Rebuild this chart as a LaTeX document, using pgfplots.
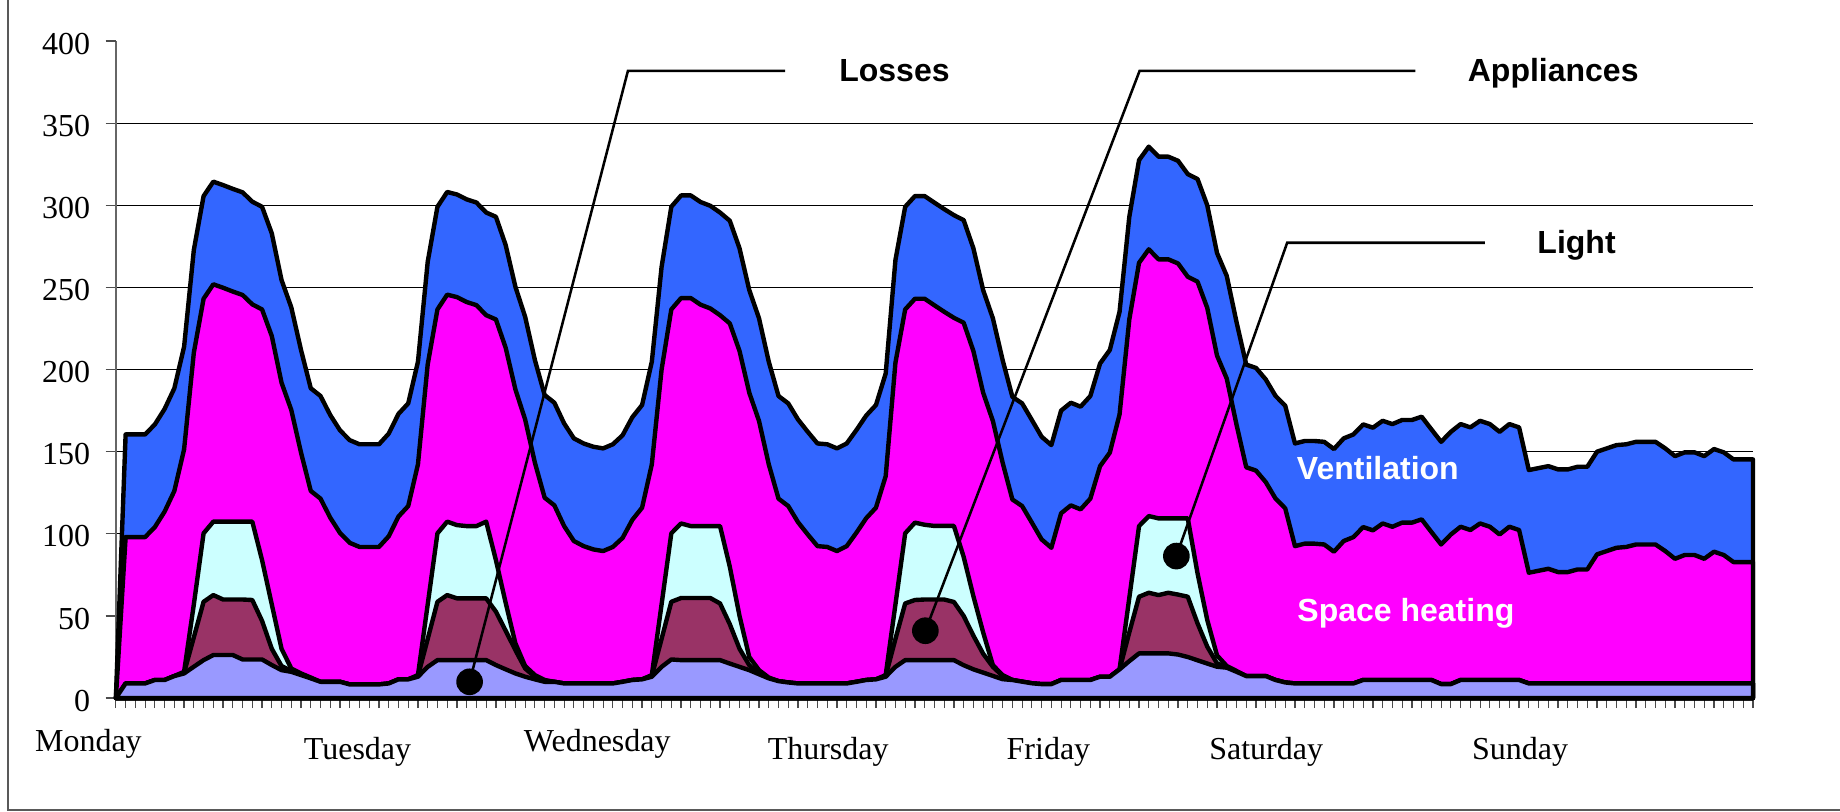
\documentclass[border=0pt]{standalone}
\usepackage{fontspec}
\setmainfont{Liberation Serif}
\newfontfamily\arialfont{Liberation Sans}
\usepackage{pgfplots}
\usepackage{pgfplotstable}
\pgfplotsset{compat=1.18}
\definecolor{vent}{HTML}{3366FF}
\definecolor{heat}{HTML}{FF00FF}
\definecolor{lightc}{HTML}{CCFFFF}
\definecolor{appl}{HTML}{993366}
\definecolor{loss}{HTML}{9999FF}
% h = hour of the week; L, A, G, S, T = top of losses, appliances, light, space heating, ventilation (stacked)
\pgfplotstableread{
h L A G S T
0 0 0 0 0 0
1 8.9 8.9 8.9 98.0 160.5
2 8.9 8.9 8.9 98.0 160.5
3 8.9 8.9 8.9 98.0 160.5
4 11 11 11 104.1 166.6
5 11 11 11 113.5 176
6 13.4 13.4 13.4 126.1 188.6
7 15 15.5 16 151.4 213.9
8 19.1 37 57 210.3 272.8
9 23.1 58.6 100.3 243.1 305.6
10 26.2 62.7 107.4 251.9 314.4
11 26.2 60 107.4 249.8 312.3
12 26.2 60 107.4 247.5 310
13 23.5 60 107.4 245.4 307.9
14 23.5 59.7 107.4 239.7 302.2
15 23.5 47 84 236.6 299.1
16 20.1 30 57 220.4 282.9
17 17 19.5 30 192.0 254.5
18 16 16.5 18 175.4 237.9
19 14 14 15 149.4 211.9
20 12 12 12.5 126.1 188.6
21 9.9 9.9 9.9 121.4 183.9
22 9.9 9.9 9.9 109.8 172.3
23 9.9 9.9 9.9 100.5 163
24 8.3 8.3 8.3 94.5 157
25 8.3 8.3 8.3 92.0 154.5
26 8.3 8.3 8.3 92.0 154.5
27 8.3 8.3 8.3 92.0 154.5
28 8.9 8.9 8.9 98.5 161
29 11.4 11.4 11.4 110.5 173
30 11.4 11.4 11.4 116.9 179.4
31 13 13.5 14 142.3 204.8
32 19 36 57 203.1 265.6
33 23.1 58.6 100.3 236.6 299.1
34 23.1 62.7 107.4 245.6 308.1
35 23.1 60.7 105.3 244.1 306.6
36 23.1 60.7 104.7 241.1 303.6
37 23.1 60.7 104.7 239.2 301.7
38 23.1 60.7 107.4 233.1 295.6
39 20.1 52.6 84 230.5 293
40 17.5 41 58 213.3 275.8
41 15 29.2 33.3 187.9 250.4
42 13 18 19.5 169.6 232.1
43 11.4 13 14 143.3 205.8
44 9.9 9.9 11 122.0 184.5
45 9.9 9.9 9.9 117.3 179.8
46 8.9 8.9 8.9 104.7 167.2
47 8.9 8.9 8.9 95.6 158.1
48 8.9 8.9 8.9 92.5 155
49 8.9 8.9 8.9 90.5 153
50 8.9 8.9 8.9 89.5 152
51 8.9 8.9 8.9 92.0 154.5
52 9.9 9.9 9.9 97.5 160
53 11 11 11 108.5 171
54 11.4 11.4 11.4 115.9 178.4
55 13 13.5 14 142.3 204.8
56 19 36 57 199.9 262.4
57 23.5 58.6 100.3 236.6 299.1
58 23.1 60.9 106.3 243.5 306
59 23.1 60.9 104.7 243.5 306
60 23.1 60.9 104.7 239.5 302
61 23.1 60.9 104.7 237.2 299.7
62 23.1 57.6 104.7 233.1 295.6
63 21 45 80 228.1 290.6
64 19 30 50 211.3 273.8
65 17 20 25 185.9 248.4
66 14.5 15 17 168.7 231.2
67 12 12 12.5 142.3 204.8
68 10.3 10.3 10.3 121.4 183.9
69 9.5 9.5 9.5 116.9 179.4
70 8.9 8.9 8.9 107.1 169.6
71 8.9 8.9 8.9 99.6 162.1
72 8.9 8.9 8.9 92.5 155
73 8.9 8.9 8.9 92.0 154.5
74 8.9 8.9 8.9 89.5 152
75 8.9 8.9 8.9 92.5 155
76 9.9 9.9 9.9 100.7 163.2
77 11 11 11 109.5 172
78 11.4 11.4 11.4 115.9 178.4
79 13 13.5 14 135.1 197.6
80 19 36 57 204.2 266.7
81 23.1 57.6 100.3 236.6 299.1
82 23.1 59.7 106.8 243.1 305.6
83 23.1 60 105.5 243.1 305.6
84 23.1 60 104.8 239.1 301.6
85 23.1 60 104.8 235.2 297.7
86 23.1 58.5 104.8 231.5 294
87 20 50 86 228.5 291
88 17.5 38 62 211.3 273.8
89 15.5 27 40 185.9 248.4
90 13.5 19 20 168.7 231.2
91 11.5 13.5 14 143.3 205.8
92 11 11 11 120.9 183.4
93 10 10 10 116.9 179.4
94 9 9 9 106.8 169.3
95 8.5 8.5 8.5 96.6 159.1
96 8.5 8.5 8.5 91.5 154
97 11 11 11 112.5 175
98 11 11 11 117.3 179.8
99 11 11 11 114.9 177.4
100 11 11 11 121.4 183.9
101 13 13 13 141.2 203.7
102 13 13 13 149.4 211.9
103 17.5 17.5 17.5 172.7 235.2
104 22.5 40 61 230.5 293
105 27.2 61.7 104.7 265.0 327.5
106 27.2 64.1 110.8 273.2 335.7
107 27.2 62.7 109.4 267.1 329.6
108 27.2 64.1 109.4 267.1 329.6
109 26.5 63 109.4 264.6 327.1
110 25 61.7 109.4 256.5 319
111 23 45.5 76 253.5 316
112 21 31.3 47.5 237.5 300
113 19.1 21.1 26 208.5 271
114 18.5 19 19.5 194.5 257
115 16 16 16.5 166.5 229
116 13.4 13.4 13.4 140.5 203
117 13.4 13.4 13.4 138.5 201
118 13.4 13.4 13.4 131.5 194
119 11 11 11 121.5 184
120 9.5 9.5 9.5 115.5 178
121 8.9 8.9 8.9 92.5 155
122 8.9 8.9 8.9 94.0 156.5
123 8.9 8.9 8.9 94.0 156.5
124 8.9 8.9 8.9 93.5 156
125 8.9 8.9 8.9 89.1 151.6
126 8.9 8.9 8.9 95.6 158.1
127 8.9 8.9 8.9 98.0 160.5
128 11 11 11 104.1 166.6
129 11 11 11 102.1 164.6
130 11 11 11 106.3 168.8
131 11 11 11 104.3 166.8
132 11 11 11 106.8 169.3
133 11 11 11 106.8 169.3
134 11 11 11 108.8 171.3
135 11 11 11 101.1 163.6
136 8.5 8.5 8.5 93.5 156
137 8.5 8.5 8.5 99.6 162.1
138 11 11 11 104.3 166.8
139 11 11 11 102.3 164.8
140 11 11 11 106.3 168.8
141 11 11 11 104.3 166.8
142 11 11 11 99.6 162.1
143 11 11 11 104.3 166.8
144 11 11 11 102.3 164.8
145 8.9 8.9 8.9 76.3 138.8
146 8.9 8.9 8.9 77.5 140
147 8.9 8.9 8.9 78.7 141.2
148 8.9 8.9 8.9 76.7 139.2
149 8.9 8.9 8.9 76.7 139.2
150 8.9 8.9 8.9 78.3 140.8
151 8.9 8.9 8.9 78.3 140.8
152 8.9 8.9 8.9 87.5 150
153 8.9 8.9 8.9 89.5 152
154 8.9 8.9 8.9 91.5 154
155 8.9 8.9 8.9 92.0 154.5
156 8.9 8.9 8.9 93.5 156
157 8.9 8.9 8.9 93.5 156
158 8.9 8.9 8.9 93.5 156
159 8.9 8.9 8.9 89.5 152
160 8.9 8.9 8.9 84.8 147.3
161 8.9 8.9 8.9 87.1 149.6
162 8.9 8.9 8.9 87.1 149.6
163 8.9 8.9 8.9 84.8 147.3
164 8.9 8.9 8.9 89.1 151.6
165 8.9 8.9 8.9 87.1 149.6
166 8.9 8.9 8.9 82.8 145.3
167 8.9 8.9 8.9 82.8 145.3
168 8.9 8.9 8.9 82.8 145.3
}\datatable
\begin{document}
\begin{tikzpicture}
\useasboundingbox (-43.46pt,-42.4pt) rectangle (646.6pt,261.8pt);
\begin{axis}[
  scale only axis, width=613.95pt, height=246.4pt,
  xmin=0, xmax=168, ymin=0, ymax=400,
  axis x line*=bottom, axis y line*=left,
  axis line style={black!60, line width=0.5pt},
  xtick={0,1,...,168}, xticklabels={},
  ytick={0,50,...,350}, extra y ticks={400}, extra y tick style={grid=none},
  ymajorgrids, grid style={black, line width=0.45pt},
  tick align=outside, major tick length=3.8pt,
  tick style={black!70, line width=0.45pt},
  ticklabel style={font=\fontsize{12}{14}\selectfont},
  yticklabel style={xshift=-2.3pt, yshift=-1pt},
  /pgf/number format/assume math mode=true,
  clip=false, no markers,
  every axis plot/.append style={draw=black, line width=1.65pt, line join=round},
]
\addplot[fill=vent] table[x=h,y=T]{\datatable} \closedcycle;
\addplot[fill=heat] table[x=h,y=S]{\datatable} \closedcycle;
\addplot[fill=lightc] table[x=h,y=G]{\datatable} \closedcycle;
\addplot[fill=appl] table[x=h,y=A]{\datatable} \closedcycle;
\addplot[fill=loss] table[x=h,y=L]{\datatable} \closedcycle;
% leader lines
\draw[line width=0.95pt] (axis cs:36.3,9.9) -- (axis cs:52.55,381.9) -- (axis cs:68.67,381.9);
\fill (axis cs:36.3,9.9) circle[radius=5pt];
\draw[line width=0.95pt] (axis cs:83.07,41.0) -- (axis cs:105.06,381.9) -- (axis cs:133.36,381.9);
\fill (axis cs:83.07,41.0) circle[radius=5pt];
\draw[line width=0.95pt] (axis cs:108.83,86.45) -- (axis cs:120.2,277.2) -- (axis cs:140.5,277.2);
\fill (axis cs:108.83,86.45) circle[radius=5pt];
\begin{scope}[every node/.style={inner sep=0pt, font=\arialfont\bfseries\fontsize{12}{14}\selectfont}]
\node[anchor=base] at (axis cs:79.9,375.2) {Losses};
\node[anchor=base] at (axis cs:147.5,375.6) {Appliances};
\node[anchor=base] at (axis cs:149.9,270.7) {Light};
\node[anchor=base west, text=white] at (axis cs:121.15,133.1) {Ventilation};
\node[anchor=base west, text=white] at (axis cs:121.2,46.5) {Space heating};
\end{scope}
\begin{scope}[every node/.style={inner sep=0pt, anchor=base, font=\fontsize{12}{14}\selectfont}]
\node at (axis cs:-2.82,-32.7) {Monday};
\node at (axis cs:24.8,-37.7) {Tuesday};
\node at (axis cs:49.4,-32.7) {Wednesday};
\node at (axis cs:73.1,-37.7) {Thursday};
\node at (axis cs:95.7,-37.7) {Friday};
\node at (axis cs:118.05,-37.7) {Saturday};
\node at (axis cs:144.1,-37.7) {Sunday};
\end{scope}
\end{axis}
\draw[black!65, line width=0.55pt] (-40.5pt,270pt) -- (-40.5pt,-42pt) -- (700pt,-42pt);
\end{tikzpicture}
\end{document}
